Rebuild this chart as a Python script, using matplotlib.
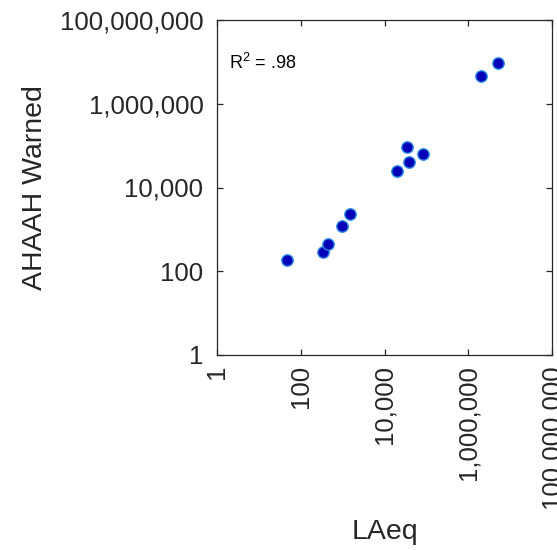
import matplotlib
matplotlib.use("Agg")
import matplotlib.pyplot as plt
from matplotlib.ticker import FixedLocator, FuncFormatter, NullLocator

plt.rcParams['font.family'] = ['Liberation Sans', 'DejaVu Sans']
plt.rcParams['mathtext.fontset'] = 'custom'
plt.rcParams['mathtext.rm'] = 'Liberation Sans'
plt.rcParams['mathtext.it'] = 'Liberation Sans'

# values (log-log)
laeq = [47, 333, 446, 958, 1470, 19400, 33700, 37600, 83800, 2.04e6, 5.1e6]
ahaah_warned = [183, 293, 454, 1180, 2350, 24400, 91000, 41600, 63000, 4.7e6, 9.6e6]
tick_vals = [1, 1e2, 1e4, 1e6, 1e8]
r2_text = r"$\mathrm{R}^{2}$ = .98"

W, H = 557, 550
x0, x1, y0, y1 = 217.3, 552, 20, 355

fig = plt.figure(figsize=(W / 100, H / 100), dpi=100)
ax = fig.add_axes([x0 / W, 1 - y1 / H, (x1 - x0) / W, (y1 - y0) / H])

ax.scatter(laeq, ahaah_warned, s=8.2 ** 2, c='#0000b8', edgecolors='#2a8ae0',
           linewidths=1.0, zorder=3)

ax.set_xscale('log')
ax.set_yscale('log')
ax.set_xlim(1, 1e8)
ax.set_ylim(1, 1e8)

fmt = FuncFormatter(lambda v, p: "{:,}".format(int(round(v))))
for a in (ax.xaxis, ax.yaxis):
    a.set_major_locator(FixedLocator(tick_vals))
    a.set_minor_locator(NullLocator())
    a.set_major_formatter(fmt)

ax.tick_params(which='both', direction='in', top=True, right=True, length=4,
               width=0.9, color='#262626', labelsize=18.5, labelcolor='#262626')
for lbl in ax.get_xticklabels():
    lbl.set_rotation(90)
    lbl.set_ha('center')
    lbl.set_va('top')
ax.tick_params(axis='x', pad=7)
ax.tick_params(axis='y', pad=10)

for s in ax.spines.values():
    s.set_color('#262626')
    s.set_linewidth(0.9)

ax.set_xlabel("LAeq", fontsize=20.5, color='#262626')
ax.set_ylabel("AHAAH Warned", fontsize=20.5, color='#262626')
ax.xaxis.set_label_coords((385 - x0) / (x1 - x0), -(519 - y1) / (y1 - y0), transform=ax.transAxes)
ax.yaxis.set_label_coords(-(x0 - 48) / (x1 - x0), 0.5, transform=ax.transAxes)

ax.text((229 - x0) / (x1 - x0), (y1 - 69) / (y1 - y0), r2_text, transform=ax.transAxes,
        fontsize=13, color='black', va='baseline', ha='left')

fig.savefig("out.png", dpi=100)
